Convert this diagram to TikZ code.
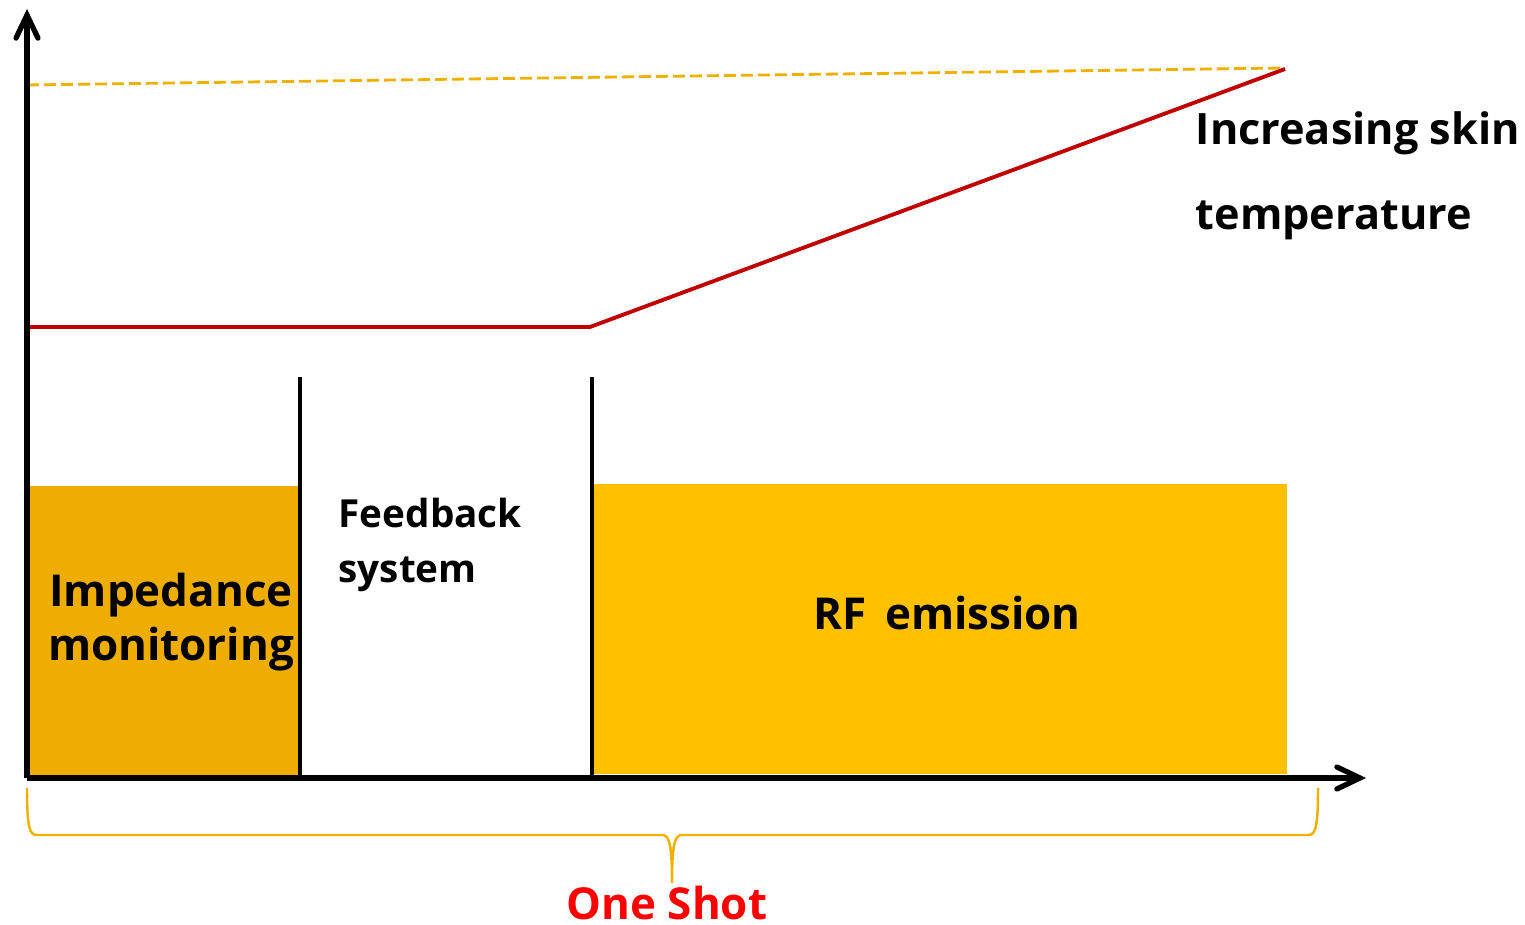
\documentclass[tikz,border=0pt]{standalone}
\usepackage{fontspec}
\setmainfont{Open Sans}[BoldFont={Open Sans Bold}]
\usetikzlibrary{arrows.meta}
\definecolor{impfill}{HTML}{EEAD00}
\definecolor{rffill}{HTML}{FFC000}
\definecolor{tempred}{HTML}{C00000}
\definecolor{braceorange}{HTML}{F0B000}
\definecolor{shotred}{HTML}{FF0000}
\tikzset{
  axis/.style={line width=1.5pt, -{Straight Barb[length=2.3mm, width=2.2mm, line cap=round]}},
  phase/.style={rectangle, inner sep=0pt, minimum width=2.71cm, minimum height=2.92cm},
  divider/.style={line width=1pt},
  lbl/.style={font=\bfseries\fontsize{12.5}{15.5}\selectfont, inner sep=0pt},
}
\begin{document}
\begin{tikzpicture}
  \useasboundingbox (0,0) rectangle (15.25,9.25);
  % Coordinates
  \coordinate (o) at (0.27, 1.47);
  \coordinate (ytop) at (0.27, 9.16);
  \coordinate (xend) at (13.66, 1.47);
  % Nodes
  \node (imp) [phase, fill=impfill] at (1.635, 2.93) {};
  \node (rf) [phase, fill=rffill, minimum width=6.94cm, minimum height=2.90cm] at (9.40, 2.96) {};
  \node (imp-t) [lbl, align=center] at (1.71, 3.03) {Impedance\\monitoring};
  \node (fb-t) [lbl, align=left, anchor=west, font=\bfseries\fontsize{11}{15.8}\selectfont] at (3.38, 3.80) {Feedback\\system};
  \node (rf-t) [lbl] at (9.47, 3.12) {RF\,\ emission};
  \node (skin) [lbl, align=left, anchor=west, font=\bfseries\fontsize{12.3}{24.2}\selectfont] at (11.95, 7.49) {Increasing skin\\temperature};
  \node (shot) [lbl, text=shotred] at (6.67, 0.22) {One Shot};
  \coordinate (f-top) at (3.00, 5.48);
  \coordinate (f-bot) at (3.00, 1.47);
  \coordinate (r-top) at (5.92, 5.48);
  \coordinate (r-bot) at (5.92, 1.47);
  % Temperature
  \draw[braceorange, line width=0.8pt, dash pattern=on 1.2mm off 0.5mm] (0.27, 8.40) -- (12.85, 8.57);
  \draw[tempred, line width=1.1pt] (0.27, 5.98) -- (5.90, 5.98) -- (12.85, 8.56);
  % Dividers
  \draw[divider] (f-top) -- (f-bot);
  \draw[divider] (r-top) -- (r-bot);
  % Axes
  \draw[axis] (o) -- (ytop);
  \draw[axis] (o) -- (xend);
  % Brace
  \draw[braceorange, line width=0.7pt]
    (0.27, 1.37) .. controls (0.27, 0.95) and (0.30, 0.90) .. (0.37, 0.90)
    -- (6.62, 0.90) .. controls (6.69, 0.90) and (6.72, 0.82) .. (6.72, 0.42)
    .. controls (6.72, 0.82) and (6.75, 0.90) .. (6.82, 0.90)
    -- (13.08, 0.90) .. controls (13.15, 0.90) and (13.18, 0.95) .. (13.18, 1.37);
\end{tikzpicture}
\end{document}
